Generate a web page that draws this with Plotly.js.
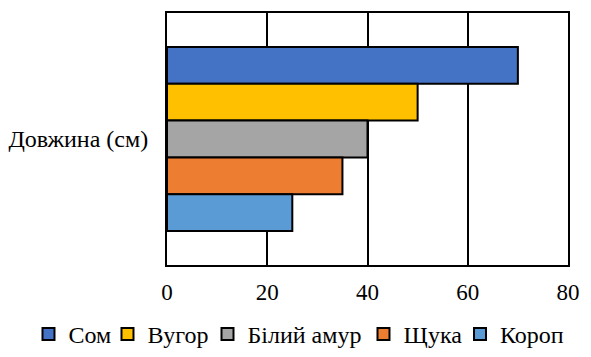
<!DOCTYPE html>
<html><head><meta charset="utf-8">
<script src="https://cdn.plot.ly/plotly-3.0.1.min.js"></script>
<style>body{margin:0}#c{width:591px;height:357px}</style>
</head><body><div id="c"></div>
<script>
const category = ['Довжина (см)'];
const seriesNames = ['Сом', 'Вугор', 'Білий амур', 'Щука', 'Короп'];
const seriesValues = [70, 50, 40, 35, 25];
const seriesColors = ['#4472C4', '#FFC000', '#A5A5A5', '#ED7D31', '#5B9BD5'];
const xTicks = [0, 20, 40, 60, 80];
// horizontal placement of each legend entry (paper fraction), one per series
const legendX = [-0.3454, -0.1484, 0.1010, 0.4900, 0.7307];

const FONT = 'Liberation Serif';
const legendKeys = seriesNames.map((_, i) => i === 0 ? 'legend' : 'legend' + (i + 1));

const traces = seriesNames.map((n, i) => ({
  type: 'bar', orientation: 'h', name: n,
  y: category, x: [seriesValues[i]],
  legend: legendKeys[i],
  marker: {color: seriesColors[i], line: {color: '#000', width: 2}}
}));

const layout = {
  width: 591, height: 357,
  margin: {l: 167, r: 23, t: 13, b: 92},
  paper_bgcolor: '#fff', plot_bgcolor: '#fff',
  font: {family: FONT, size: 24, color: '#000'},
  barmode: 'group', bargap: 0.27,
  xaxis: {range: [0, 80], tickvals: xTicks, ticktext: xTicks.map(String),
    tickfont: {family: FONT, size: 23, color: '#000'},
    showgrid: true, gridcolor: '#000', gridwidth: 2, zeroline: false,
    showline: true, linecolor: '#000', linewidth: 2, mirror: true, ticks: '', ticklabelstandoff: 5},
  yaxis: {autorange: 'reversed', showline: true, linecolor: '#000', linewidth: 2, mirror: true,
    tickfont: {family: FONT, size: 24, color: '#000'},
    ticks: '', showgrid: false, ticklabelstandoff: 12},
  showlegend: true
};
legendKeys.forEach((k, i) => {
  layout[k] = {orientation: 'h', xref: 'paper', yref: 'container',
    x: legendX[i], xanchor: 'left', y: 0, yanchor: 'bottom',
    font: {family: FONT, size: 24, color: '#000'}, itemwidth: 30, bgcolor: 'rgba(0,0,0,0)'};
});

Plotly.newPlot('c', traces, layout, {displayModeBar: false, staticPlot: true});
</script></body></html>
